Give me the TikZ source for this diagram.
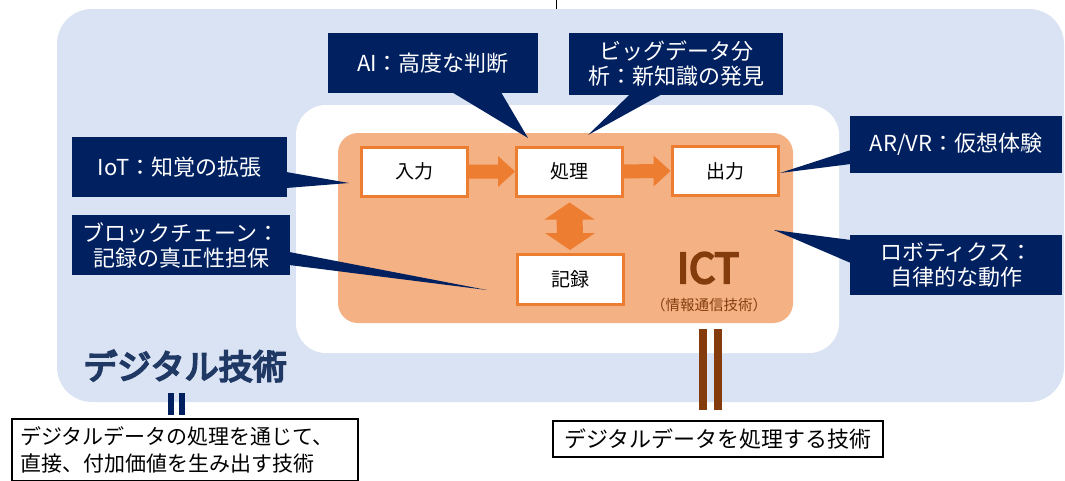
\documentclass[tikz,border=0pt]{standalone}
\usepackage{fontspec}
\setmainfont{Noto Sans CJK JP}
\newfontfamily\jpbold{Noto Sans CJK JP}[FakeBold=5.5]
\usetikzlibrary{calc}
\definecolor{bgblue}{HTML}{DAE3F3}
\definecolor{navy}{HTML}{002060}
\definecolor{orfill}{HTML}{F4B183}
\definecolor{orline}{HTML}{ED7D31}
\definecolor{ictbrown}{HTML}{843C0C}
\definecolor{dtblue}{HTML}{1F3864}
\begin{document}
\begin{tikzpicture}[x=1pt,y=-1pt,
  callout/.style={fill=navy,text=white,inner sep=0pt,align=center,font=\fontsize{22}{25}\selectfont},
  procbox/.style={draw=orline,line width=3pt,fill=white,inner sep=0pt,minimum width=106pt,minimum height=49pt,font=\fontsize{19}{22}\selectfont},
  blockarr/.style={fill=orline},
  wedge/.style={fill=navy},
  defbox/.style={draw=black,line width=1.2pt,fill=white,inner sep=0pt}]
\useasboundingbox (0,0) rectangle (1065,480);
\fill[white] (0,0) rectangle (1065,480);
% top tick
\coordinate (tk1) at (556,0);
\coordinate (tk2) at (556,12);
\draw[line width=1pt] (tk1) -- (tk2);
% backgrounds
\fill[bgblue,rounded corners=35pt] (57,9) rectangle (1064,402);
\fill[white,rounded corners=30pt] (296,105) rectangle (839,353);
\fill[orfill,rounded corners=20pt] (338,133) rectangle (793,323);
% process boxes
\node[procbox] (in) at (414.5,171.5) {入力};
\node[procbox] (proc) at (569.5,171.5) {処理};
\node[procbox] (out) at (725,171) {出力};
\node[procbox,minimum height=50pt] (rec) at (570,279.5) {記録};
% block arrows
\fill[blockarr] ($(in.east)+(0,-7)$) -- ($(proc.west)+(-17,-7)$) -- ($(proc.west)+(-17,-15.5)$) -- (proc.west) -- ($(proc.west)+(-17,15.5)$) -- ($(proc.west)+(-17,7)$) -- ($(in.east)+(0,7)$) -- cycle;
\fill[blockarr] ($(proc.east)+(0,-7)$) -- ($(out.west)+(-17,-7)$) -- ($(out.west)+(-17,-15.5)$) -- (out.west) -- ($(out.west)+(-17,15.5)$) -- ($(out.west)+(-17,7)$) -- ($(proc.east)+(0,7)$) -- cycle;
\coordinate (va) at ($(proc.south)+(0,5)$);
\coordinate (vb) at ($(rec.north)+(0,-3)$);
\fill[blockarr] (va) -- ($(va)+(25,17)$) -- ($(va)+(13,17)$) -- ($(vb)+(13,-17)$) -- ($(vb)+(25,-17)$) -- (vb) -- ($(vb)+(-25,-17)$) -- ($(vb)+(-13,-17)$) -- ($(va)+(-13,17)$) -- ($(va)+(-25,17)$) -- cycle;
% ICT label
\node[text=ictbrown,inner sep=0pt,font=\jpbold\fontsize{41}{41}\selectfont] (ict) at (708,268) {ICT};
\node[text=ictbrown,inner sep=0pt,font=\fontsize{14.5}{16}\selectfont] (ictsub) at (709,305) {（情報通信技術）};
% callouts
\node[callout,minimum width=215pt,minimum height=60pt] (iot) at (179.5,167) {IoT：知覚の拡張};
\node[callout,minimum width=210pt,minimum height=60pt] (ai) at (433,63) {AI：高度な判断};
\node[callout,minimum width=214pt,minimum height=62pt] (bd) at (676,64) {ビッグデータ分\\析：新知識の発見};
\node[callout,minimum width=212pt,minimum height=57pt] (arvr) at (956,144.5) {AR/VR：仮想体験};
\node[callout,minimum width=212pt,minimum height=60pt] (robo) at (956,265) {ロボティクス：\\自律的な動作};
\node[callout,minimum width=218pt,minimum height=60pt] (bc) at (181,245) {ブロックチェーン：\\記録の真正性担保};
% callout pointers
\coordinate (tipiot) at (349,183);
\coordinate (tipai) at (528,138);
\coordinate (tipbd) at (588,135);
\coordinate (tiparvr) at (780,173);
\coordinate (tiprobo) at (774,230);
\coordinate (tipbc) at (487,290);
\fill[wedge] ($(iot.east)+(-1,5)$) -- (tipiot) -- ($(iot.east)+(-1,21)$) -- cycle;
\fill[wedge] ($(ai.south)+(19,-1)$) -- (tipai) -- ($(ai.south)+(68,-1)$) -- cycle;
\fill[wedge] ($(bd.south)+(-46,-1)$) -- (tipbd) -- ($(bd.south)+(-14,-1)$) -- cycle;
\fill[wedge] ($(arvr.west)+(1,5.5)$) -- (tiparvr) -- ($(arvr.west)+(1,19.5)$) -- cycle;
\fill[wedge] ($(robo.west)+(1,-25)$) -- (tiprobo) -- ($(robo.west)+(1,-2)$) -- cycle;
\fill[wedge] ($(bc.east)+(-1,7)$) -- (tipbc) -- ($(bc.east)+(-1,20)$) -- cycle;
% digital technology label
\node[text=dtblue,inner sep=0pt,font=\jpbold\fontsize{34}{36}\selectfont] (dig) at (185,366) {デジタル技術};
% equals bars
\fill[navy] (168,393) rectangle (174,415);
\fill[navy] (179,393) rectangle (185,415);
\fill[ictbrown] (699,329) rectangle (707,410);
\fill[ictbrown] (714,329) rectangle (722,410);
% definition boxes
\node[defbox,minimum width=330pt,minimum height=36pt,font=\fontsize{22}{24}\selectfont] (ictdef) at (718,439) {デジタルデータを処理する技術};
\node[defbox,inner xsep=8pt,text width=330pt,minimum height=62pt,align=left,font=\fontsize{21}{27}\selectfont] (digdef) at (185,450) {デジタルデータの処理を通じて、\\直接、付加価値を生み出す技術};
\end{tikzpicture}
\end{document}
